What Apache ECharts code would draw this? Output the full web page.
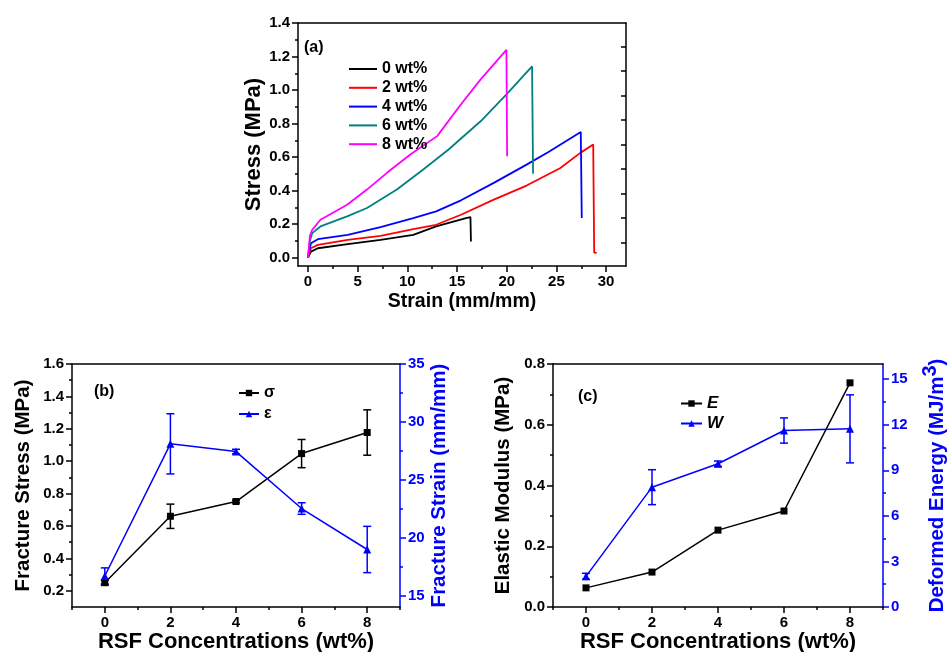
<!DOCTYPE html>
<html>
<head>
<meta charset="utf-8">
<script src="https://cdn.jsdelivr.net/npm/echarts@6/dist/echarts.min.js"></script>
<style>
  html, body { margin: 0; padding: 0; background: #fff; }
  #chart { width: 947px; height: 652px; }
</style>
</head>
<body>
<div id="chart"></div>
<script>
// (a) stress-strain curves, [strain, stress] pairs
const curveNames = ['0 wt%', '2 wt%', '4 wt%', '6 wt%', '8 wt%'];
const curve0 = [[0, 0], [0.3, 0.036], [1, 0.056], [4, 0.08], [7.3, 0.106], [10.6, 0.136], [12.9, 0.186], [15.9, 0.236], [16.35, 0.242], [16.4, 0.096]];
const curve2 = [[0, 0], [0.3, 0.056], [1, 0.076], [4, 0.106], [7.3, 0.13], [10.6, 0.17], [12.9, 0.196], [15.4, 0.256], [18.7, 0.346], [22, 0.43], [25.4, 0.535], [27.4, 0.625], [28.7, 0.675], [28.8, 0.03], [29.05, 0.028]];
const curve4 = [[0, 0], [0.3, 0.086], [1, 0.11], [4, 0.136], [7.3, 0.182], [10.6, 0.236], [12.9, 0.276], [15.4, 0.342], [18.7, 0.446], [22, 0.555], [24.2, 0.63], [27.45, 0.749], [27.55, 0.236]];
const curve6 = [[0, 0], [0.2, 0.1], [0.43, 0.146], [1.26, 0.186], [3.94, 0.246], [5.94, 0.296], [8.95, 0.406], [11.6, 0.526], [14.15, 0.645], [17.4, 0.815], [20, 0.975], [22.55, 1.141], [22.65, 0.5]];
const curve8 = [[0, 0], [0.2, 0.13], [0.43, 0.166], [1.26, 0.226], [3.94, 0.316], [5.94, 0.406], [7.95, 0.506], [10.3, 0.615], [13, 0.725], [15.4, 0.915], [17.4, 1.065], [19.97, 1.24], [20.04, 0.605]];
const curveColors = ['#000000', '#ff0000', '#0000ff', '#008080', '#ff00ff'];

// (b) and (c) values vs concentration
const conc = [0, 2, 4, 6, 8];
const stressVals = [0.25, 0.66, 0.751, 1.047, 1.177];
const stressErr = [0.015, 0.075, 0.008, 0.087, 0.14];
const strainVals = [16.68, 28.1, 27.43, 22.51, 18.97];
const strainErr = [0.7, 2.6, 0.2, 0.5, 2.0];
const modulusVals = [0.063, 0.115, 0.253, 0.316, 0.738];
const energyVals = [2.02, 7.89, 9.43, 11.62, 11.73];
const energyErr = [0.2, 1.15, 0.18, 0.83, 2.24];

// tick values
const aXTicks = [0, 5, 10, 15, 20, 25, 30];
const aXMinor = [2.5, 7.5, 12.5, 17.5, 22.5, 27.5];
const aYTicks = [0, 0.2, 0.4, 0.6, 0.8, 1.0, 1.2, 1.4];
const aYMinor = [0.1, 0.3, 0.5, 0.7, 0.9, 1.1, 1.3];
const aRightTicks = [0.09, 0.236, 0.383, 0.529, 0.675, 0.821, 0.967, 1.113, 1.259];
const concTicks = [0, 2, 4, 6, 8];
const concMinor = [-1, 1, 3, 5, 7, 9];
const bYTicks = [0.2, 0.4, 0.6, 0.8, 1.0, 1.2, 1.4, 1.6];
const bYMinor = [0.3, 0.5, 0.7, 0.9, 1.1, 1.3, 1.5];
const bRTicks = [15, 20, 25, 30, 35];
const bRMinor = [17.5, 22.5, 27.5, 32.5];
const cYTicks = [0, 0.2, 0.4, 0.6, 0.8];
const cYMinor = [0.1, 0.3, 0.5, 0.7];
const cRTicks = [0, 3, 6, 9, 12, 15];
const cRMinor = [1.5, 4.5, 7.5, 10.5, 13.5];

const FONT = '"Liberation Sans", Arial, sans-serif';
const BLUE = '#0000ff';

function mainAxis(o) {
  const color = o.color || '#000';
  return {
    type: 'value', gridIndex: o.grid, position: o.pos, min: o.min, max: o.max,
    name: o.name, nameLocation: 'middle', nameGap: o.gap,
    nameTextStyle: Object.assign({color: color, fontFamily: FONT, fontWeight: 'bold', fontSize: o.nameSize || 20}, o.nameStyle || {}),
    axisLine: {show: true, onZero: false, lineStyle: {color: color, width: 1.5}},
    axisTick: {show: true, customValues: o.ticks, length: 6, lineStyle: {color: color, width: 1.5}},
    axisLabel: {show: true, customValues: o.ticks, color: color, fontFamily: FONT, fontWeight: 'bold', fontSize: 15, margin: 8,
      formatter: o.fmt || (v => String(v))},
    splitLine: {show: false}
  };
}
function minorAxis(o) {
  const color = o.color || '#000';
  return {
    type: 'value', gridIndex: o.grid, position: o.pos, min: o.min, max: o.max,
    axisLine: {show: !!o.line, onZero: false, lineStyle: {color: color, width: 1.5}},
    axisTick: {show: true, customValues: o.ticks, length: o.len || 3, inside: !!o.inside, lineStyle: {color: color, width: 1.5}},
    axisLabel: {show: false}, splitLine: {show: false}
  };
}

const one = v => v.toFixed(1);

const xAxis = [
  mainAxis({grid: 0, pos: 'bottom', min: -1, max: 32, ticks: aXTicks, name: 'Strain (mm/mm)', gap: 26, nameSize: 19.5}),
  minorAxis({grid: 0, pos: 'bottom', min: -1, max: 32, ticks: aXMinor}),
  minorAxis({grid: 0, pos: 'top', min: -1, max: 32, ticks: [], line: true}),
  mainAxis({grid: 1, pos: 'bottom', min: -1, max: 9, ticks: concTicks, name: 'RSF Concentrations (wt%)', gap: 24, nameSize: 22}),
  minorAxis({grid: 1, pos: 'bottom', min: -1, max: 9, ticks: concMinor}),
  minorAxis({grid: 1, pos: 'top', min: -1, max: 9, ticks: [], line: true}),
  mainAxis({grid: 2, pos: 'bottom', min: -1, max: 9, ticks: concTicks, name: 'RSF Concentrations (wt%)', gap: 24, nameSize: 22}),
  minorAxis({grid: 2, pos: 'bottom', min: -1, max: 9, ticks: concMinor}),
  minorAxis({grid: 2, pos: 'top', min: -1, max: 9, ticks: [], line: true})
];

const yAxis = [
  mainAxis({grid: 0, pos: 'left', min: -0.05, max: 1.4, ticks: aYTicks, fmt: one, name: 'Stress (MPa)', gap: 28, nameSize: 22}),
  minorAxis({grid: 0, pos: 'left', min: -0.05, max: 1.4, ticks: aYMinor}),
  minorAxis({grid: 0, pos: 'right', min: -0.05, max: 1.4, ticks: aRightTicks, line: true, inside: true, len: 5}),
  mainAxis({grid: 1, pos: 'left', min: 0.1, max: 1.6, ticks: bYTicks, fmt: one, name: 'Fracture Stress (MPa)', gap: 38, nameSize: 20.5}),
  minorAxis({grid: 1, pos: 'left', min: 0.1, max: 1.6, ticks: bYMinor}),
  mainAxis({grid: 1, pos: 'right', min: 14, max: 35, ticks: bRTicks, color: BLUE, name: 'Fracture Strain (mm/mm)', gap: 27, nameSize: 20.5}),
  minorAxis({grid: 1, pos: 'right', min: 14, max: 35, ticks: bRMinor, color: BLUE}),
  mainAxis({grid: 2, pos: 'left', min: 0, max: 0.8, ticks: cYTicks, fmt: one, name: 'Elastic Modulus (MPa)', gap: 39, nameSize: 20.5}),
  minorAxis({grid: 2, pos: 'left', min: 0, max: 0.8, ticks: cYMinor}),
  mainAxis({grid: 2, pos: 'right', min: 0, max: 16, ticks: cRTicks, color: BLUE, name: 'Deformed Energy (MJ/m{sup|3})', gap: 37, nameSize: 20.5,
    nameStyle: {rich: {sup: {color: BLUE, fontFamily: FONT, fontWeight: 'bold', fontSize: 20, padding: [0, 0, 14, 0]}}}}),
  minorAxis({grid: 2, pos: 'right', min: 0, max: 16, ticks: cRMinor, color: BLUE})
];

function errorBars(name, xi, yi, vals, errs, color) {
  return {
    type: 'custom', name: name + ' err', xAxisIndex: xi, yAxisIndex: yi, z: 3,
    data: conc.map((c, i) => [c, vals[i], errs[i]]),
    renderItem: function (params, api) {
      const x = api.value(0), y = api.value(1), e = api.value(2);
      const top = api.coord([x, y + e]);
      const bot = api.coord([x, y - e]);
      const w = 4;
      const st = {stroke: color, lineWidth: 1.5};
      return {
        type: 'group', children: [
          {type: 'line', shape: {x1: top[0], y1: top[1], x2: bot[0], y2: bot[1]}, style: st},
          {type: 'line', shape: {x1: top[0] - w, y1: top[1], x2: top[0] + w, y2: top[1]}, style: st},
          {type: 'line', shape: {x1: bot[0] - w, y1: bot[1], x2: bot[0] + w, y2: bot[1]}, style: st}
        ]
      };
    }
  };
}

function pointLine(name, xi, yi, vals, color, symbol, size) {
  return {
    type: 'line', name: name, xAxisIndex: xi, yAxisIndex: yi, z: 4,
    data: conc.map((c, i) => [c, vals[i]]),
    symbol: symbol, symbolSize: size, showSymbol: true,
    itemStyle: {color: color}, lineStyle: {color: color, width: 1.5}
  };
}

const curves = [curve0, curve2, curve4, curve6, curve8];
const series = curves.map((d, i) => ({
  type: 'line', name: curveNames[i], xAxisIndex: 0, yAxisIndex: 0,
  data: d, symbol: 'none', lineStyle: {color: curveColors[i], width: 1.8}, itemStyle: {color: curveColors[i]}
}));
series.push(
  errorBars('σ', 3, 3, stressVals, stressErr, '#000'),
  errorBars('ε', 3, 5, strainVals, strainErr, BLUE),
  pointLine('σ', 3, 3, stressVals, '#000', 'rect', 7),
  pointLine('ε', 3, 5, strainVals, BLUE, 'triangle', 8),
  errorBars('W', 6, 9, energyVals, energyErr, BLUE),
  pointLine('E', 6, 7, modulusVals, '#000', 'rect', 7),
  pointLine('W', 6, 9, energyVals, BLUE, 'triangle', 8)
);

const legendText = {fontFamily: FONT, fontWeight: 'bold', fontSize: 16, color: '#000', lineHeight: 16};
const option = {
  animation: false,
  backgroundColor: '#fff',
  grid: [
    {left: 298, top: 23, width: 328, height: 243, outerBoundsMode: 'none'},
    {left: 72, top: 364, width: 328, height: 243, outerBoundsMode: 'none'},
    {left: 553, top: 364, width: 330, height: 243, outerBoundsMode: 'none'}
  ],
  xAxis: xAxis,
  yAxis: yAxis,
  legend: [
    {data: curveNames, icon: 'rect', orient: 'vertical', left: 344, top: 56, itemWidth: 28, itemHeight: 2, itemGap: 2.8,
      textStyle: legendText, selectedMode: false},
    {data: ['σ', 'ε'], orient: 'vertical', left: 233, top: 380, itemWidth: 20, itemHeight: 8, itemGap: 5,
      textStyle: legendText, selectedMode: false},
    {data: ['E', 'W'], orient: 'vertical', left: 675, top: 390, itemWidth: 21, itemHeight: 8, itemGap: 3,
      textStyle: Object.assign({}, legendText, {fontStyle: 'italic', fontSize: 17}), selectedMode: false}
  ],
  graphic: [
    {type: 'text', left: 304, top: 40, style: {text: '(a)', font: 'bold 16px ' + FONT, fill: '#000'}},
    {type: 'text', left: 94, top: 384, style: {text: '(b)', font: 'bold 16px ' + FONT, fill: '#000'}},
    {type: 'text', left: 578, top: 389, style: {text: '(c)', font: 'bold 16px ' + FONT, fill: '#000'}}
  ],
  series: series
};

const chart = echarts.init(document.getElementById('chart'));
chart.setOption(option);
</script>
</body>
</html>
